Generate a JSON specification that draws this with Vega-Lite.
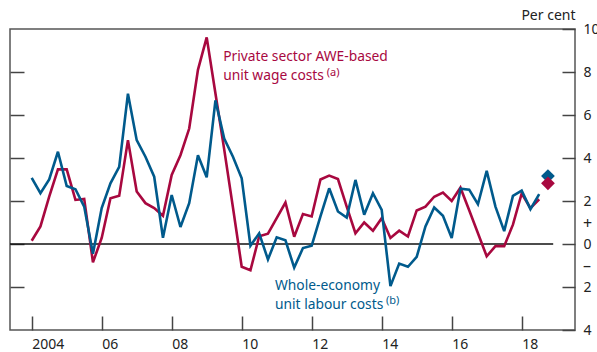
{
  "$schema": "https://vega.github.io/schema/vega-lite/v6.json",
  "width": 565,
  "height": 301,
  "autosize": {"type": "none"},
  "padding": {"left": 10, "top": 29, "right": 22, "bottom": 22},
  "background": "white",
  "config": {
    "view": {"stroke": "#555555", "strokeWidth": 1.5},
    "font": "Noto Sans",
    "axis": {"labelFont": "Noto Sans", "titleFont": "Noto Sans", "labelColor": "#222222", "tickColor": "#444444", "tickWidth": 1.5, "grid": false, "domain": false}
  },
  "datasets": {
    "series": [
      {"t": 2004.00, "s": "awe", "v": 0.15}, {"t": 2004.25, "s": "awe", "v": 0.82}, {"t": 2004.50, "s": "awe", "v": 2.2}, {"t": 2004.75, "s": "awe", "v": 3.47},
      {"t": 2005.00, "s": "awe", "v": 3.47}, {"t": 2005.25, "s": "awe", "v": 2.05}, {"t": 2005.50, "s": "awe", "v": 2.1}, {"t": 2005.75, "s": "awe", "v": -0.85},
      {"t": 2006.00, "s": "awe", "v": 0.28}, {"t": 2006.25, "s": "awe", "v": 2.13}, {"t": 2006.50, "s": "awe", "v": 2.24}, {"t": 2006.75, "s": "awe", "v": 4.83},
      {"t": 2007.00, "s": "awe", "v": 2.44}, {"t": 2007.25, "s": "awe", "v": 1.9}, {"t": 2007.50, "s": "awe", "v": 1.67}, {"t": 2007.75, "s": "awe", "v": 1.31},
      {"t": 2008.00, "s": "awe", "v": 3.21}, {"t": 2008.25, "s": "awe", "v": 4.13}, {"t": 2008.50, "s": "awe", "v": 5.37}, {"t": 2008.75, "s": "awe", "v": 8.1},
      {"t": 2009.00, "s": "awe", "v": 9.61}, {"t": 2009.25, "s": "awe", "v": 7.0}, {"t": 2009.50, "s": "awe", "v": 4.4}, {"t": 2009.75, "s": "awe", "v": 1.7},
      {"t": 2010.00, "s": "awe", "v": -1.06}, {"t": 2010.25, "s": "awe", "v": -1.22}, {"t": 2010.50, "s": "awe", "v": 0.36}, {"t": 2010.75, "s": "awe", "v": 0.48},
      {"t": 2011.00, "s": "awe", "v": 1.2}, {"t": 2011.25, "s": "awe", "v": 1.93}, {"t": 2011.50, "s": "awe", "v": 0.34}, {"t": 2011.75, "s": "awe", "v": 1.39},
      {"t": 2012.00, "s": "awe", "v": 1.28}, {"t": 2012.25, "s": "awe", "v": 3.0}, {"t": 2012.50, "s": "awe", "v": 3.18}, {"t": 2012.75, "s": "awe", "v": 3.02},
      {"t": 2013.00, "s": "awe", "v": 1.74}, {"t": 2013.25, "s": "awe", "v": 0.5}, {"t": 2013.50, "s": "awe", "v": 1.0}, {"t": 2013.75, "s": "awe", "v": 0.62},
      {"t": 2014.00, "s": "awe", "v": 1.2}, {"t": 2014.25, "s": "awe", "v": 0.28}, {"t": 2014.50, "s": "awe", "v": 0.62}, {"t": 2014.75, "s": "awe", "v": 0.35},
      {"t": 2015.00, "s": "awe", "v": 1.56}, {"t": 2015.25, "s": "awe", "v": 1.74}, {"t": 2015.50, "s": "awe", "v": 2.2}, {"t": 2015.75, "s": "awe", "v": 2.39},
      {"t": 2016.00, "s": "awe", "v": 2.0}, {"t": 2016.25, "s": "awe", "v": 2.62}, {"t": 2016.50, "s": "awe", "v": 1.57}, {"t": 2016.75, "s": "awe", "v": 0.5},
      {"t": 2017.00, "s": "awe", "v": -0.57}, {"t": 2017.25, "s": "awe", "v": -0.1}, {"t": 2017.50, "s": "awe", "v": -0.1}, {"t": 2017.75, "s": "awe", "v": 0.9},
      {"t": 2018.00, "s": "awe", "v": 2.35}, {"t": 2018.25, "s": "awe", "v": 1.67}, {"t": 2018.50, "s": "awe", "v": 2.08},
      {"t": 2004.00, "s": "ulc", "v": 3.08}, {"t": 2004.25, "s": "ulc", "v": 2.36}, {"t": 2004.50, "s": "ulc", "v": 3.0}, {"t": 2004.75, "s": "ulc", "v": 4.29},
      {"t": 2005.00, "s": "ulc", "v": 2.7}, {"t": 2005.25, "s": "ulc", "v": 2.55}, {"t": 2005.50, "s": "ulc", "v": 1.74}, {"t": 2005.75, "s": "ulc", "v": -0.45},
      {"t": 2006.00, "s": "ulc", "v": 1.67}, {"t": 2006.25, "s": "ulc", "v": 2.82}, {"t": 2006.50, "s": "ulc", "v": 3.59}, {"t": 2006.75, "s": "ulc", "v": 6.99},
      {"t": 2007.00, "s": "ulc", "v": 4.83}, {"t": 2007.25, "s": "ulc", "v": 4.06}, {"t": 2007.50, "s": "ulc", "v": 3.13}, {"t": 2007.75, "s": "ulc", "v": 0.29},
      {"t": 2008.00, "s": "ulc", "v": 2.28}, {"t": 2008.25, "s": "ulc", "v": 0.79}, {"t": 2008.50, "s": "ulc", "v": 1.9}, {"t": 2008.75, "s": "ulc", "v": 4.13},
      {"t": 2009.00, "s": "ulc", "v": 3.1}, {"t": 2009.25, "s": "ulc", "v": 6.68}, {"t": 2009.50, "s": "ulc", "v": 4.9}, {"t": 2009.75, "s": "ulc", "v": 4.06},
      {"t": 2010.00, "s": "ulc", "v": 3.06}, {"t": 2010.25, "s": "ulc", "v": -0.08}, {"t": 2010.50, "s": "ulc", "v": 0.5}, {"t": 2010.75, "s": "ulc", "v": -0.72},
      {"t": 2011.00, "s": "ulc", "v": 0.31}, {"t": 2011.25, "s": "ulc", "v": 0.17}, {"t": 2011.50, "s": "ulc", "v": -1.1}, {"t": 2011.75, "s": "ulc", "v": -0.19},
      {"t": 2012.00, "s": "ulc", "v": -0.08}, {"t": 2012.25, "s": "ulc", "v": 1.28}, {"t": 2012.50, "s": "ulc", "v": 2.59}, {"t": 2012.75, "s": "ulc", "v": 1.51},
      {"t": 2013.00, "s": "ulc", "v": 1.23}, {"t": 2013.25, "s": "ulc", "v": 2.98}, {"t": 2013.50, "s": "ulc", "v": 1.36}, {"t": 2013.75, "s": "ulc", "v": 2.36},
      {"t": 2014.00, "s": "ulc", "v": 1.59}, {"t": 2014.25, "s": "ulc", "v": -1.96}, {"t": 2014.50, "s": "ulc", "v": -0.91}, {"t": 2014.75, "s": "ulc", "v": -1.06},
      {"t": 2015.00, "s": "ulc", "v": -0.6}, {"t": 2015.25, "s": "ulc", "v": 0.82}, {"t": 2015.50, "s": "ulc", "v": 1.7}, {"t": 2015.75, "s": "ulc", "v": 1.31},
      {"t": 2016.00, "s": "ulc", "v": 0.28}, {"t": 2016.25, "s": "ulc", "v": 2.57}, {"t": 2016.50, "s": "ulc", "v": 2.53}, {"t": 2016.75, "s": "ulc", "v": 1.85},
      {"t": 2017.00, "s": "ulc", "v": 3.4}, {"t": 2017.25, "s": "ulc", "v": 1.74}, {"t": 2017.50, "s": "ulc", "v": 0.6}, {"t": 2017.75, "s": "ulc", "v": 2.24},
      {"t": 2018.00, "s": "ulc", "v": 2.48}, {"t": 2018.25, "s": "ulc", "v": 1.62}, {"t": 2018.50, "s": "ulc", "v": 2.32}
    ],
    "points": [
      {"t": 2018.75, "s": "ulc", "v": 3.16},
      {"t": 2018.75, "s": "awe", "v": 2.82}
    ],
    "zero": [{"t0": 2003.38, "t1": 2018.9, "v": 0}],
    "labels": [
      {"t": 2009.47, "v": 8.49, "txt": "Private sector AWE-based", "s": "awe", "size": 13.8},
      {"t": 2009.47, "v": 7.64, "txt": "unit wage costs", "s": "awe", "size": 13.8},
      {"t": 2012.43, "v": 7.82, "txt": "(a)", "s": "awe", "size": 11},
      {"t": 2010.95, "v": -2.13, "txt": "Whole-economy", "s": "ulc", "size": 13.8},
      {"t": 2010.95, "v": -3.02, "txt": "unit labour costs", "s": "ulc", "size": 13.8},
      {"t": 2014.12, "v": -2.8, "txt": "(b)", "s": "ulc", "size": 11}
    ],
    "signs": [
      {"t": 2019.75, "v": 0.95, "txt": "+"},
      {"t": 2019.75, "v": -1.0, "txt": "–"}
    ]
  },
  "resolve": {"axis": {"y": "independent", "x": "independent"}},
  "layer": [
    {
      "data": {"name": "zero"},
      "mark": {"type": "rule", "color": "#111111", "strokeWidth": 1.3},
      "encoding": {
        "x": {"field": "t0", "type": "quantitative", "scale": {"domain": [2003.38, 2019.523], "nice": false, "zero": false},
          "axis": {"orient": "bottom", "values": [2004, 2006, 2008, 2010, 2012, 2014, 2016, 2018], "tickSize": -14, "labelPadding": 21, "labelAlign": "left", "labelBaseline": "top", "labelFontSize": 14, "labelExpr": "datum.value == 2004 ? '2004' : substring(toString(datum.value), 2, 4)", "title": null}},
        "x2": {"field": "t1"},
        "y": {"field": "v", "type": "quantitative", "scale": {"domain": [-4, 10], "nice": false, "zero": false},
          "axis": {"orient": "left", "values": [-2, 0, 2, 4, 6, 8], "tickSize": -14, "labels": false, "title": null}}
      }
    },
    {
      "data": {"name": "series"},
      "mark": {"type": "line", "strokeWidth": 2.6, "strokeJoin": "miter", "strokeMiterLimit": 3},
      "encoding": {
        "x": {"field": "t", "type": "quantitative", "axis": null},
        "y": {"field": "v", "type": "quantitative",
          "axis": {"orient": "right", "values": [-4, -2, 0, 2, 4, 6, 8, 10], "tickSize": -13, "labelPadding": 21, "labelAlign": "left", "labelFontSize": 14, "labelExpr": "toString(abs(datum.value))", "title": "Per cent", "titleAngle": 0, "titleAlign": "right", "titleBaseline": "middle", "titleX": 0, "titleY": -14, "titleFontSize": 14, "titleFontWeight": "normal", "titleColor": "#222222"}},
        "color": {"field": "s", "type": "nominal", "scale": {"domain": ["awe", "ulc"], "range": ["#A8083F", "#005A8C"]}, "legend": null},
        "order": {"field": "t"}
      }
    },
    {
      "data": {"name": "points"},
      "mark": {"type": "point", "shape": "diamond", "filled": true, "size": 190, "opacity": 1},
      "encoding": {
        "x": {"field": "t", "type": "quantitative", "axis": null},
        "y": {"field": "v", "type": "quantitative", "axis": null},
        "color": {"field": "s", "type": "nominal", "legend": null}
      }
    },
    {
      "data": {"name": "labels"},
      "mark": {"type": "text", "align": "left", "baseline": "alphabetic", "font": "Noto Sans"},
      "encoding": {
        "x": {"field": "t", "type": "quantitative", "axis": null},
        "y": {"field": "v", "type": "quantitative", "axis": null},
        "text": {"field": "txt"},
        "size": {"field": "size", "type": "quantitative", "scale": null},
        "color": {"field": "s", "type": "nominal", "scale": {"domain": ["awe", "ulc"], "range": ["#A8083F", "#005A8C"]}, "legend": null}
      }
    },
    {
      "data": {"name": "signs"},
      "mark": {"type": "text", "align": "left", "baseline": "middle", "fontSize": 16, "color": "#222222", "font": "Noto Sans"},
      "encoding": {
        "x": {"field": "t", "type": "quantitative", "axis": null},
        "y": {"field": "v", "type": "quantitative", "axis": null},
        "text": {"field": "txt"}
      }
    }
  ]
}
